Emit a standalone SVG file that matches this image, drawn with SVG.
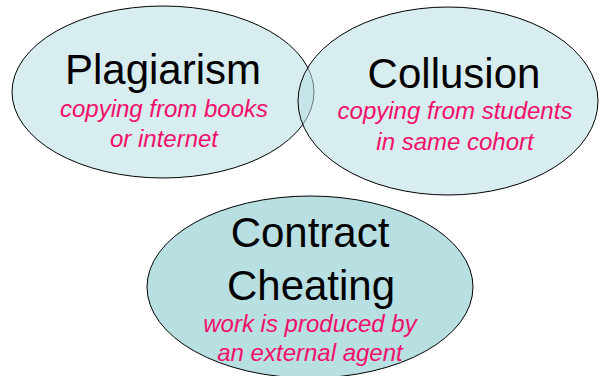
<svg xmlns="http://www.w3.org/2000/svg" width="600" height="376" viewBox="0 0 600 376">
<style>
.ell{stroke:#000;stroke-width:1}
.light{fill:#b8dfe1;fill-opacity:0.55}
.solid{fill:#b8dfe1}
.title{font-family:"Liberation Sans",Arial,sans-serif;font-size:42px;fill:#000;text-anchor:middle}
.sub{font-family:"Liberation Sans",Arial,sans-serif;font-size:24px;font-style:italic;fill:#f0106a;text-anchor:middle}
</style>
<rect width="600" height="376" fill="#fff"/>
<g id="plagiarism">
<ellipse class="ell light" cx="163" cy="92" rx="151" ry="86"/>
<text class="title" x="163" y="84">Plagiarism</text>
<text class="sub" x="164" y="117">copying from books</text>
<text class="sub" x="164" y="147">or internet</text>
</g>
<g id="collusion">
<ellipse class="ell light" cx="448" cy="101" rx="150" ry="94"/>
<text class="title" x="454" y="88">Collusion</text>
<text class="sub" x="455" y="119">copying from students</text>
<text class="sub" x="455" y="150">in same cohort</text>
</g>
<g id="contract">
<ellipse class="ell solid" cx="310" cy="287" rx="163" ry="91"/>
<text class="title" x="310" y="247">Contract</text>
<text class="title" x="311" y="300">Cheating</text>
<text class="sub" x="310" y="332">work is produced by</text>
<text class="sub" x="310" y="361">an external agent</text>
</g>
<g id="connectors"/>
</svg>
